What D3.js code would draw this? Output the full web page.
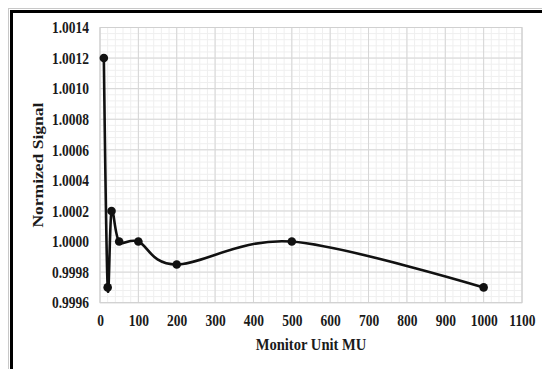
<!DOCTYPE html>
<html>
<head>
<meta charset="utf-8">
<script src="https://cdn.jsdelivr.net/npm/d3@7"></script>
<style>
  html, body { margin: 0; padding: 0; background: #fff; }
  svg { display: block; }
  text { font-family: "Liberation Serif", "Times New Roman", serif; font-weight: bold; fill: #1a1a1a; }
</style>
</head>
<body>
<svg id="chart" width="542" height="369"></svg>
<script>
// Monitor units delivered and the normalized chamber signal measured at each
const monitorUnits = [10, 20, 30, 50, 100, 200, 500, 1000];
const normSignal   = [1.0012, 0.9997, 1.0002, 1.0000, 1.0000, 0.99985, 1.0000, 0.9997];

const xTicks = [0, 100, 200, 300, 400, 500, 600, 700, 800, 900, 1000, 1100];
const yTicks = [0.9996, 0.9998, 1.0000, 1.0002, 1.0004, 1.0006, 1.0008, 1.0010, 1.0012, 1.0014];

const xTitle = "Monitor Unit MU";
const yTitle = "Normized Signal";

const svg = d3.select("#chart");
const W = 542, H = 369;
const plot = { left: 100, right: 522, top: 27.5, bottom: 302.7 };
const stretch = 1.2;

// outer frame (only its top and left edges fall inside the canvas)
svg.append("rect").attr("x", 8.5).attr("y", 8.5).attr("width", 700).attr("height", 600)
  .attr("fill", "none").attr("stroke", "#c8c8c8").attr("stroke-width", 1);
svg.append("rect").attr("x", 11.5).attr("y", 11.5).attr("width", 700).attr("height", 600)
  .attr("fill", "#fff").attr("stroke", "#000").attr("stroke-width", 3);

const x = d3.scaleLinear().domain([0, 1100]).range([plot.left, plot.right]);
const y = d3.scaleLinear().domain([0.9996, 1.0014]).range([plot.bottom, plot.top]);

// minor grid (five divisions per major step)
const xMinor = d3.range(0, 1100 + 1e-9, 20);
const yMinor = d3.range(0, 46).map(i => 0.9996 + i * 0.00004);
const grid = svg.append("g");
grid.selectAll("line.xm").data(xMinor).join("line")
  .attr("x1", d => x(d)).attr("x2", d => x(d))
  .attr("y1", plot.top).attr("y2", plot.bottom)
  .attr("stroke", "#efefef").attr("stroke-width", 1);
grid.selectAll("line.ym").data(yMinor).join("line")
  .attr("x1", plot.left).attr("x2", plot.right)
  .attr("y1", d => y(d)).attr("y2", d => y(d))
  .attr("stroke", "#efefef").attr("stroke-width", 1);
// major grid
grid.selectAll("line.xM").data(xTicks).join("line")
  .attr("x1", d => x(d)).attr("x2", d => x(d))
  .attr("y1", plot.top).attr("y2", plot.bottom)
  .attr("stroke", "#d6d6d6").attr("stroke-width", 1);
grid.selectAll("line.yM").data(yTicks).join("line")
  .attr("x1", plot.left).attr("x2", plot.right)
  .attr("y1", d => y(d)).attr("y2", d => y(d))
  .attr("stroke", "#d6d6d6").attr("stroke-width", 1);
svg.append("rect")
  .attr("x", plot.left).attr("y", plot.top)
  .attr("width", plot.right - plot.left).attr("height", plot.bottom - plot.top)
  .attr("fill", "none").attr("stroke", "#d0d0d0");

// axes (labels only, no domain line or tick marks)
const xAxis = svg.append("g")
  .attr("transform", `translate(0,${plot.bottom})`)
  .call(d3.axisBottom(x).tickValues(xTicks).tickSize(0).tickPadding(9.5).tickFormat(d3.format("d")));
const yAxis = svg.append("g")
  .attr("transform", `translate(${plot.left},0)`)
  .call(d3.axisLeft(y).tickValues(yTicks).tickSize(0).tickPadding(11).tickFormat(d3.format(".4f")));
[xAxis, yAxis].forEach(a => {
  a.select(".domain").remove();
  a.selectAll("text")
    .attr("fill", "#1a1a1a")
    .style("font-family", '"Liberation Serif", "Times New Roman", serif')
    .style("font-weight", "bold")
    .style("font-size", "13.5px")
    .attr("transform", `scale(1,${stretch})`);
});

// smoothed data line and markers
const line = d3.line()
  .x((d, i) => x(monitorUnits[i]))
  .y(d => y(d))
  .curve(d3.curveCardinal.tension(0));
svg.append("path").datum(normSignal)
  .attr("d", line)
  .attr("fill", "none").attr("stroke", "#111").attr("stroke-width", 2.6)
  .attr("stroke-linejoin", "round");
svg.selectAll("circle.pt").data(normSignal).join("circle")
  .attr("cx", (d, i) => x(monitorUnits[i]))
  .attr("cy", d => y(d))
  .attr("r", 4.3).attr("fill", "#111");

// axis titles
svg.append("text")
  .attr("transform", `translate(${(plot.left + plot.right) / 2},350) scale(1,${stretch})`)
  .attr("text-anchor", "middle")
  .style("font-size", "14.6px")
  .text(xTitle);
svg.append("text")
  .attr("transform", `translate(43,${(plot.top + plot.bottom) / 2}) rotate(-90) scale(${stretch},1)`)
  .attr("text-anchor", "middle")
  .style("font-size", "14.6px")
  .text(yTitle);
</script>
</body>
</html>
